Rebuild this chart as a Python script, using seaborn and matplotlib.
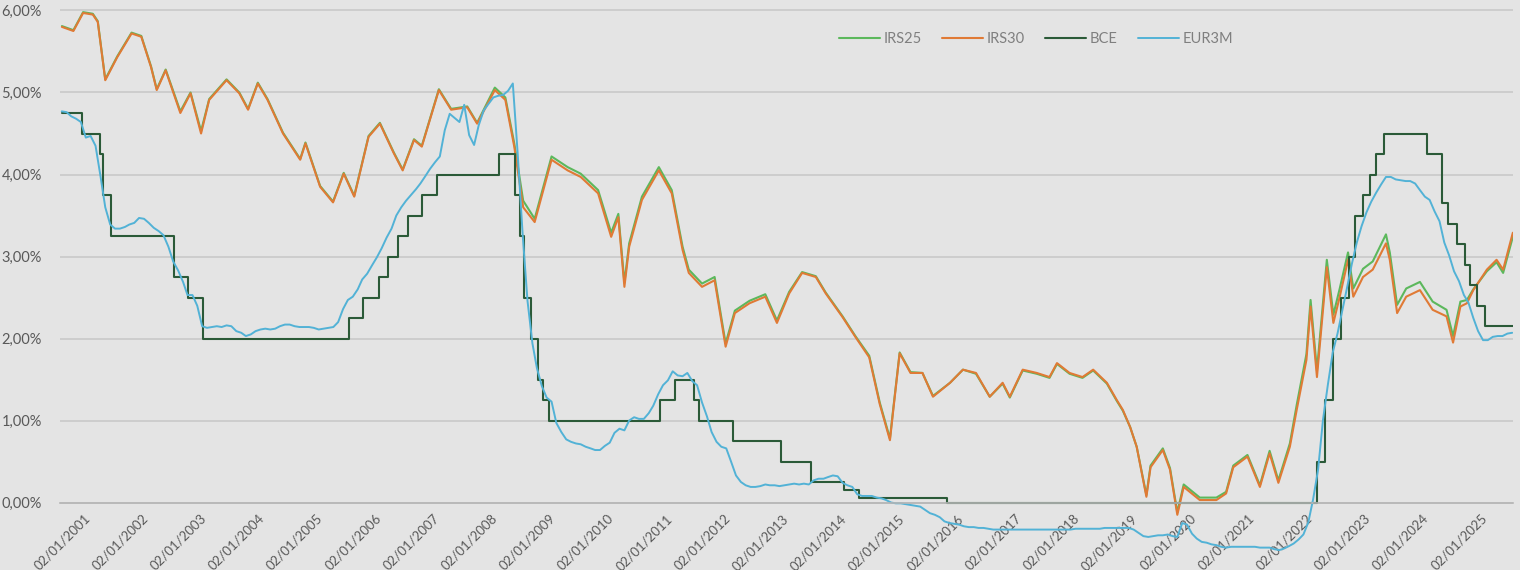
import matplotlib
matplotlib.use("Agg")
import matplotlib.pyplot as plt
import seaborn as sns
import pandas as pd

# --- data --------------------------------------------------------------------
irs_dates = [
    "2001-01-02", "2001-03-15", "2001-05-15", "2001-07-15", "2001-08-15", "2001-10-01",
    "2001-12-15", "2002-03-15", "2002-05-15", "2002-07-15", "2002-08-20", "2002-10-15",
    "2003-01-15", "2003-03-20", "2003-05-25", "2003-07-15", "2003-11-01", "2004-01-20",
    "2004-03-15", "2004-05-15", "2004-07-15", "2004-10-20", "2005-02-05", "2005-03-10",
    "2005-06-10", "2005-08-30", "2005-11-05", "2006-01-10", "2006-04-10", "2006-06-20",
    "2006-09-15", "2006-11-10", "2007-01-20", "2007-03-10", "2007-06-25", "2007-09-10",
    "2007-12-20", "2008-02-20", "2008-06-10", "2008-08-15", "2008-10-10", "2008-12-05",
    "2009-02-15", "2009-06-01", "2009-09-10", "2009-12-01", "2010-03-20", "2010-06-10",
    "2010-07-25", "2010-09-01", "2010-10-01", "2010-12-20", "2011-04-05", "2011-06-25",
    "2011-09-01", "2011-10-10", "2012-01-01", "2012-03-20", "2012-05-28", "2012-07-25",
    "2012-10-25", "2013-02-01", "2013-04-15", "2013-07-01", "2013-09-20", "2013-12-15",
    "2014-02-15", "2014-06-01", "2014-08-20", "2014-11-15", "2015-01-20", "2015-03-25",
    "2015-04-15", "2015-05-25", "2015-08-01", "2015-10-15", "2015-12-20", "2016-04-05",
    "2016-06-25", "2016-09-15", "2016-12-10", "2017-03-01", "2017-04-15", "2017-07-05",
    "2017-10-01", "2017-12-20", "2018-02-05", "2018-04-25", "2018-07-15", "2018-09-20",
    "2018-12-15", "2019-02-15", "2019-03-25", "2019-05-10", "2019-06-20", "2019-08-20",
    "2019-09-15", "2019-12-01", "2020-01-15", "2020-03-01", "2020-04-10", "2020-07-20",
    "2020-11-01", "2021-01-01", "2021-02-15", "2021-05-15", "2021-08-01", "2021-10-01",
    "2021-11-25", "2022-02-05", "2022-03-20", "2022-05-20", "2022-06-15", "2022-07-25",
    "2022-09-25", "2022-11-05", "2022-12-15", "2023-02-05", "2023-03-10", "2023-05-10",
    "2023-07-10", "2023-10-01", "2023-10-25", "2023-12-10", "2024-02-05", "2024-05-01",
    "2024-07-20", "2024-10-15", "2024-11-25", "2025-01-10", "2025-02-20", "2025-04-01",
    "2025-06-25", "2025-08-25", "2025-10-05", "2025-12-05",
]

irs30 = [
    5.80, 5.75, 5.97, 5.95, 5.86, 5.15, 5.43, 5.72, 5.68, 5.31, 5.03, 5.27,
    4.75, 4.99, 4.50, 4.91, 5.15, 4.99, 4.79, 5.11, 4.91, 4.50, 4.18, 4.38,
    3.85, 3.66, 4.01, 3.73, 4.46, 4.62, 4.26, 4.05, 4.42, 4.34, 5.03, 4.79,
    4.82, 4.62, 5.03, 4.91, 4.34, 3.60, 3.42, 4.18, 4.05, 3.97, 3.77, 3.24,
    3.48, 2.63, 3.12, 3.69, 4.05, 3.77, 3.08, 2.80, 2.63, 2.71, 1.90, 2.31,
    2.43, 2.51, 2.19, 2.55, 2.80, 2.75, 2.55, 2.26, 2.02, 1.77, 1.20, 0.76,
    1.13, 1.82, 1.58, 1.58, 1.29, 1.46, 1.62, 1.58, 1.29, 1.46, 1.29, 1.62,
    1.58, 1.53, 1.70, 1.58, 1.53, 1.62, 1.46, 1.25, 1.13, 0.92, 0.68, 0.07,
    0.43, 0.64, 0.40, -0.15, 0.19, 0.03, 0.03, 0.11, 0.43, 0.56, 0.19, 0.60,
    0.24, 0.68, 1.13, 1.74, 2.39, 1.53, 2.87, 2.19, 2.51, 2.96, 2.51, 2.75,
    2.84, 3.16, 2.96, 2.31, 2.51, 2.59, 2.35, 2.27, 1.95, 2.39, 2.43, 2.59,
    2.84, 2.96, 2.84, 3.29,
]

irs25 = [
    5.81, 5.76, 5.98, 5.96, 5.87, 5.16, 5.44, 5.73, 5.69, 5.32, 5.04, 5.28,
    4.77, 5.00, 4.53, 4.92, 5.16, 5.00, 4.80, 5.12, 4.92, 4.51, 4.19, 4.39,
    3.86, 3.67, 4.02, 3.74, 4.47, 4.63, 4.27, 4.06, 4.43, 4.35, 5.04, 4.80,
    4.83, 4.63, 5.06, 4.94, 4.38, 3.68, 3.46, 4.22, 4.09, 4.01, 3.81, 3.29,
    3.52, 2.68, 3.16, 3.73, 4.09, 3.81, 3.12, 2.84, 2.67, 2.75, 1.94, 2.34,
    2.46, 2.54, 2.22, 2.57, 2.81, 2.76, 2.56, 2.27, 2.03, 1.79, 1.22, 0.78,
    1.15, 1.83, 1.59, 1.58, 1.30, 1.46, 1.62, 1.57, 1.29, 1.45, 1.28, 1.61,
    1.57, 1.52, 1.69, 1.57, 1.52, 1.61, 1.45, 1.24, 1.12, 0.92, 0.68, 0.09,
    0.45, 0.66, 0.42, -0.12, 0.22, 0.06, 0.06, 0.13, 0.45, 0.58, 0.21, 0.63,
    0.27, 0.72, 1.19, 1.81, 2.47, 1.61, 2.96, 2.29, 2.61, 3.05, 2.61, 2.85,
    2.94, 3.27, 3.05, 2.41, 2.61, 2.69, 2.45, 2.35, 2.03, 2.45, 2.47, 2.60,
    2.82, 2.93, 2.80, 3.24,
]

bce_dates = [
    "2001-01-02", "2001-05-11", "2001-08-31", "2001-09-18", "2001-11-09", "2002-12-06",
    "2003-03-07", "2003-06-06", "2005-12-06", "2006-03-08", "2006-06-15", "2006-08-09",
    "2006-10-11", "2006-12-13", "2007-03-14", "2007-06-13", "2008-07-09", "2008-10-15",
    "2008-11-12", "2008-12-10", "2009-01-21", "2009-03-11", "2009-04-08", "2009-05-13",
    "2011-04-13", "2011-07-13", "2011-11-09", "2011-12-14", "2012-07-11", "2013-05-08",
    "2013-11-13", "2014-06-11", "2014-09-10", "2016-03-16", "2022-07-27", "2022-09-14",
    "2022-11-02", "2022-12-21", "2023-02-08", "2023-03-22", "2023-05-10", "2023-06-21",
    "2023-08-02", "2023-09-20", "2024-06-12", "2024-09-18", "2024-10-23", "2024-12-18",
    "2025-02-05", "2025-03-12", "2025-04-23", "2025-06-11", "2025-12-05",
]
bce = [
    4.75, 4.50, 4.25, 3.75, 3.25, 2.75, 2.50, 2.00, 2.25, 2.50, 2.75, 3.00,
    3.25, 3.50, 3.75, 4.00, 4.25, 3.75, 3.25, 2.50, 2.00, 1.50, 1.25, 1.00,
    1.25, 1.50, 1.25, 1.00, 0.75, 0.50, 0.25, 0.15, 0.05, 0.00, 0.50, 1.25,
    2.00, 2.50, 3.00, 3.50, 3.75, 4.00, 4.25, 4.50, 4.25, 3.65, 3.40, 3.15,
    2.90, 2.65, 2.40, 2.15, 2.15,
]

# EUR3M, one value per month, Jan 2001 .. Dec 2025
eur3m = [
    4.77, 4.76, 4.71, 4.68, 4.64, 4.45, 4.47, 4.35, 3.98, 3.60, 3.39, 3.34,
    3.34, 3.36, 3.39, 3.41, 3.47, 3.46, 3.41, 3.35, 3.31, 3.26, 3.12, 2.94,
    2.83, 2.69, 2.53, 2.53, 2.40, 2.15, 2.13, 2.14, 2.15, 2.14, 2.16, 2.15,
    2.09, 2.07, 2.03, 2.05, 2.09, 2.11, 2.12, 2.11, 2.12, 2.15, 2.17, 2.17,
    2.15, 2.14, 2.14, 2.14, 2.13, 2.11, 2.12, 2.13, 2.14, 2.20, 2.36, 2.47,
    2.51, 2.60, 2.72, 2.79, 2.89, 2.99, 3.10, 3.23, 3.34, 3.50, 3.60, 3.68,
    3.75, 3.82, 3.89, 3.98, 4.07, 4.15, 4.22, 4.54, 4.74, 4.69, 4.64, 4.85,
    4.48, 4.36, 4.60, 4.78, 4.86, 4.94, 4.96, 4.97, 5.02, 5.11, 4.24, 3.29,
    2.46, 1.94, 1.64, 1.42, 1.28, 1.23, 0.97, 0.86, 0.77, 0.74, 0.72, 0.71,
    0.68, 0.66, 0.64, 0.64, 0.69, 0.73, 0.85, 0.90, 0.88, 1.00, 1.04, 1.02,
    1.02, 1.09, 1.18, 1.32, 1.43, 1.49, 1.60, 1.55, 1.54, 1.58, 1.48, 1.43,
    1.22, 1.05, 0.86, 0.74, 0.68, 0.66, 0.50, 0.33, 0.25, 0.21, 0.19, 0.19,
    0.20, 0.22, 0.21, 0.21, 0.20, 0.21, 0.22, 0.23, 0.22, 0.23, 0.22, 0.27,
    0.29, 0.29, 0.31, 0.33, 0.32, 0.24, 0.21, 0.19, 0.10, 0.08, 0.08, 0.08,
    0.06, 0.05, 0.03, 0.00, -0.01, -0.01, -0.02, -0.03, -0.04, -0.05, -0.09, -0.13,
    -0.15, -0.18, -0.23, -0.25, -0.26, -0.27, -0.29, -0.30, -0.30, -0.31, -0.31, -0.32,
    -0.33, -0.33, -0.33, -0.33, -0.33, -0.33, -0.33, -0.33, -0.33, -0.33, -0.33, -0.33,
    -0.33, -0.33, -0.33, -0.33, -0.33, -0.32, -0.32, -0.32, -0.32, -0.32, -0.32, -0.31,
    -0.31, -0.31, -0.31, -0.31, -0.31, -0.33, -0.37, -0.41, -0.42, -0.41, -0.40, -0.40,
    -0.39, -0.41, -0.42, -0.25, -0.27, -0.38, -0.44, -0.48, -0.49, -0.51, -0.52, -0.54,
    -0.55, -0.54, -0.54, -0.54, -0.54, -0.54, -0.54, -0.55, -0.55, -0.55, -0.57, -0.58,
    -0.56, -0.53, -0.50, -0.45, -0.39, -0.24, 0.04, 0.40, 1.01, 1.43, 1.83, 2.06,
    2.35, 2.64, 2.91, 3.17, 3.37, 3.54, 3.67, 3.78, 3.88, 3.97, 3.97, 3.94,
    3.93, 3.92, 3.92, 3.89, 3.81, 3.73, 3.69, 3.55, 3.43, 3.17, 3.01, 2.82,
    2.70, 2.53, 2.44, 2.25, 2.09, 1.98, 1.98, 2.02, 2.03, 2.03, 2.06, 2.07,
]

years = list(range(2001, 2026))
y_ticks = [0, 1, 2, 3, 4, 5, 6]

# --- style ---------------------------------------------------------------------
bg = "#e4e4e4"
sns.set_style("whitegrid", {"axes.facecolor": bg, "figure.facecolor": bg,
                            "grid.color": "#c9c9c9"})
plt.rcParams["font.family"] = ["Lato", "DejaVu Sans"]

fig = plt.figure(figsize=(15.2, 5.7), dpi=100)
ax = fig.add_axes([60 / 1520, 0.0, (1513 - 60) / 1520, 1.0])

irs_x = pd.to_datetime(irs_dates)
sns.lineplot(x=irs_x, y=irs25, ax=ax, color="#5cb85c", lw=1.5, label="IRS25")
sns.lineplot(x=irs_x, y=irs30, ax=ax, color="#e07a35", lw=1.5, label="IRS30")
sns.lineplot(x=pd.to_datetime(bce_dates), y=bce, ax=ax, color="#2b5a38",
             lw=1.5, drawstyle="steps-post", label="BCE")
eur_x = pd.date_range("2001-01-01", periods=len(eur3m), freq="MS")
sns.lineplot(x=eur_x, y=eur3m, ax=ax, color="#52b2d6", lw=1.4, label="EUR3M")

ax.set_xlim(pd.Timestamp("2000-12-21"), pd.Timestamp("2025-12-06"))
ax.set_ylim(-0.823, 6.128)
ax.set_xlabel("")
ax.set_ylabel("")

ax.set_yticks(y_ticks)
ax.set_yticklabels([f"{v:.2f}".replace(".", ",") + "%" for v in y_ticks])
ax.tick_params(axis="y", length=0, pad=13, labelsize=10.5, labelcolor="#595959")

ax.set_xticks(pd.to_datetime([f"{y}-01-02" for y in years]))
ax.set_xticklabels([f"02/01/{y}" for y in years])
ax.tick_params(axis="x", length=4, color="#b5b5b5", pad=3, labelsize=9.5,
               labelcolor="#595959", labelrotation=45)
for t in ax.get_xticklabels():
    t.set_horizontalalignment("right")
    t.set_rotation_mode("anchor")
    t.set_bbox(dict(facecolor="#f2f2f2", edgecolor="none", pad=1.0))

ax.grid(axis="y", color="#c9c9c9", lw=1.2)
ax.grid(axis="x", visible=False)
for s in ["left", "right", "top"]:
    ax.spines[s].set_visible(False)
ax.spines["bottom"].set_position(("data", 0))
ax.spines["bottom"].set_color("#b5b5b5")
ax.spines["bottom"].set_linewidth(1.2)

ax.legend(loc="center left", bbox_to_anchor=(0.536, 0.932), ncol=4, frameon=False,
          fontsize=10.5, handlelength=2.8, columnspacing=1.4, handletextpad=0.25,
          borderpad=0, borderaxespad=0, labelcolor="#7f7f7f")

fig.savefig("out.png", dpi=100, facecolor=bg)
